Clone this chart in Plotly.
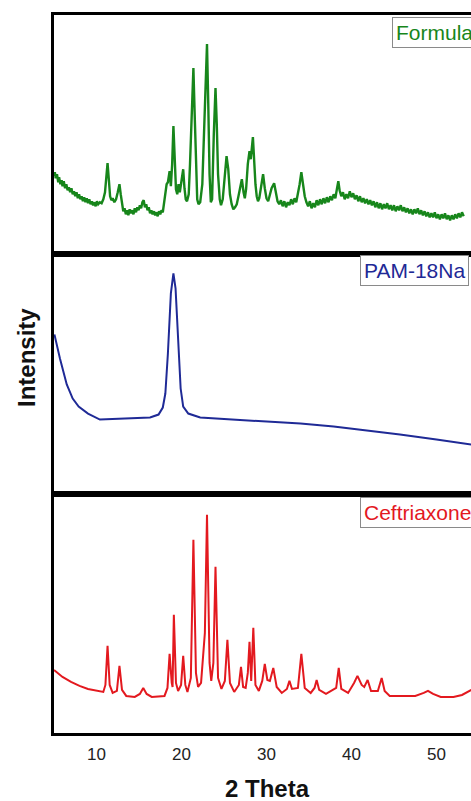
import plotly.graph_objects as go
from plotly.subplots import make_subplots

# ---- data (2 Theta, relative intensity) ----
formula_x = [5.0, 5.1, 5.2, 5.35, 5.5, 5.6, 5.75, 5.9, 6.0, 6.15, 6.3, 6.45, 6.6, 6.75, 6.9, 7.05, 7.2, 7.35, 7.5, 7.65,
             7.8, 7.95, 8.1, 8.25, 8.4, 8.55, 8.7, 8.85, 9.0, 9.15, 9.3, 9.45, 9.6, 9.75, 9.9, 10.05, 10.2, 10.4, 10.6, 10.8,
             11.0, 11.15, 11.3, 11.45, 11.6, 11.75, 11.9, 12.1, 12.3, 12.5, 12.7, 12.85, 13.0, 13.15, 13.3, 13.45, 13.6, 13.75, 13.9, 14.05,
             14.2, 14.35, 14.5, 14.65, 14.8, 14.95, 15.1, 15.25, 15.4, 15.55, 15.7, 15.85, 16.0, 16.15, 16.3, 16.45, 16.6, 16.75, 16.9, 17.05,
             17.2, 17.35, 17.5, 17.65, 17.8, 17.95, 18.1, 18.25, 18.4, 18.6, 18.75, 18.9, 19.05, 19.2, 19.35, 19.5, 19.65, 19.8, 20.0, 20.2,
             20.35, 20.5, 20.65, 20.85, 21.0, 21.2, 21.4, 21.55, 21.7, 21.85, 22.0, 22.2, 22.45, 22.7, 22.9, 23.0, 23.15, 23.3, 23.45, 23.6,
             23.8, 24.0, 24.15, 24.3, 24.5, 24.65, 24.85, 25.1, 25.3, 25.5, 25.7, 25.9, 26.1, 26.3, 26.5, 26.7, 26.9, 27.1, 27.3, 27.45,
             27.6, 27.8, 28.0, 28.15, 28.4, 28.55, 28.7, 28.85, 29.0, 29.15, 29.35, 29.6, 29.8, 30.0, 30.2, 30.4, 30.6, 30.9, 31.1, 31.3,
             31.5, 31.7, 31.9, 32.1, 32.3, 32.5, 32.7, 32.9, 33.1, 33.3, 33.5, 33.7, 33.9, 34.1, 34.3, 34.5, 34.7, 34.9, 35.1, 35.3,
             35.5, 35.7, 35.9, 36.1, 36.3, 36.5, 36.7, 36.9, 37.1, 37.3, 37.5, 37.7, 37.9, 38.1, 38.3, 38.45, 38.6, 38.8, 39.0, 39.2,
             39.4, 39.6, 39.8, 40.0, 40.2, 40.4, 40.6, 40.8, 41.0, 41.2, 41.4, 41.6, 41.8, 42.0, 42.2, 42.4, 42.6, 42.8, 43.0, 43.2,
             43.4, 43.6, 43.8, 44.0, 44.2, 44.4, 44.6, 44.8, 45.0, 45.2, 45.4, 45.6, 45.8, 46.0, 46.2, 46.4, 46.6, 46.8, 47.0, 47.2,
             47.4, 47.6, 47.8, 48.0, 48.2, 48.4, 48.6, 48.8, 49.0, 49.2, 49.4, 49.6, 49.8, 50.0, 50.2, 50.4, 50.6, 50.8, 51.0, 51.2,
             51.4, 51.6, 51.8, 52.0, 52.2, 52.4, 52.6, 52.8, 53.0, 53.2, 53.4, 53.6, 53.8, 54.1]
formula_y = [78, 82, 76, 80, 72, 77, 70, 74, 68, 73, 66, 70, 64, 67, 62, 66, 60, 63, 58, 62,
             56, 60, 55, 58, 53, 57, 52, 56, 51, 55, 50, 53, 49, 52, 48, 53, 50, 52, 51, 55,
             62, 80, 91, 75, 58, 54, 56, 52, 55, 62, 70, 60, 48, 43, 46, 40, 44, 39, 45, 41,
             44, 40, 46, 42, 47, 44, 49, 46, 52, 54, 47, 50, 44, 47, 41, 44, 40, 43, 39, 42,
             38, 43, 40, 44, 42, 50, 62, 70, 72, 83, 68, 90, 128, 95, 65, 60, 70, 62, 72, 85,
             66, 55, 53, 60, 90, 150, 186, 140, 80, 55, 50, 52, 70, 140, 200, 210, 150, 80, 52, 55,
             120, 166, 130, 80, 55, 49, 55, 75, 98, 85, 60, 50, 45, 47, 50, 58, 68, 75, 62, 56,
             65, 90, 103, 95, 117, 90, 70, 58, 53, 56, 65, 80, 66, 56, 53, 60, 66, 71, 60, 53,
             50, 54, 48, 53, 47, 52, 49, 55, 50, 56, 52, 60, 70, 82, 68, 58, 52, 48, 53, 46,
             51, 47, 54, 49, 55, 50, 56, 51, 57, 52, 58, 54, 60, 56, 66, 73, 64, 58, 62, 55,
             60, 56, 63, 57, 61, 55, 59, 53, 58, 52, 56, 51, 55, 50, 54, 49, 53, 47, 52, 46,
             51, 45, 50, 46, 51, 45, 49, 44, 49, 43, 48, 44, 49, 43, 47, 42, 46, 41, 45, 40,
             45, 41, 46, 40, 44, 39, 43, 38, 42, 37, 41, 37, 42, 36, 40, 35, 40, 36, 41, 35,
             39, 34, 39, 35, 40, 36, 41, 37, 42, 38]

pam_x = [5.05, 5.7, 6.5, 7.2, 7.9, 9.0, 10.4, 13.0, 16.3, 17.3, 17.8, 18.1, 18.4, 18.75, 19.05, 19.3, 19.6, 19.9,
         20.2, 20.8, 22.2, 26.0, 30.0, 34.0, 37.9, 42.0, 45.7, 50.0, 54.1]
pam_y = [159, 135, 109, 95, 87, 80, 74, 75, 76, 79, 86, 100, 140, 200, 220, 205, 150, 105,
         87, 80, 76, 74, 72, 70, 67, 63, 59, 54, 49]

cef_x = [5.0, 6.0, 7.0, 8.0, 9.0, 10.0, 10.8, 11.05, 11.3, 11.55, 11.9, 12.4, 12.7, 13.0, 13.5, 14.5, 15.1, 15.5,
         15.9, 16.5, 18.0, 18.35, 18.6, 18.85, 18.95, 19.1, 19.35, 19.6, 19.95, 20.2, 20.45, 20.7, 21.1, 21.4, 21.7, 21.95,
         22.3, 22.75, 23.0, 23.3, 23.5, 23.75, 24.0, 24.3, 24.7, 25.1, 25.4, 25.7, 26.2, 26.75, 27.0, 27.25, 27.55, 27.8,
         28.0, 28.2, 28.45, 28.7, 29.1, 29.5, 29.8, 30.1, 30.4, 30.8, 31.2, 31.8, 32.4, 32.7, 33.0, 33.7, 34.1, 34.5,
         35.2, 35.65, 35.9, 36.2, 37.0, 38.2, 38.5, 38.8, 39.6, 40.3, 40.7, 41.2, 41.5, 41.9, 42.3, 43.1, 43.55, 43.9,
         44.5, 46.0, 47.5, 48.5, 49.0, 49.6, 50.5, 52.0, 53.0, 54.1]
cef_y = [63, 56, 51, 47, 44, 42, 41, 48, 87, 48, 40, 42, 67, 43, 37, 36, 39, 45,
         39, 36, 37, 45, 79, 50, 46, 118, 50, 42, 48, 77, 48, 41, 55, 193, 60, 46,
         50, 100, 218, 70, 52, 70, 166, 55, 44, 52, 93, 50, 41, 48, 66, 46, 45, 60,
         91, 52, 105, 48, 42, 52, 69, 53, 52, 65, 46, 40, 44, 52, 44, 45, 79, 45,
         40, 45, 53, 43, 39, 45, 65, 44, 40, 50, 57, 48, 46, 53, 42, 42, 55, 42,
         37, 37, 37, 40, 42, 39, 36, 36, 38, 43]

labels = ["Formula", "PAM-18Na", "Ceftriaxone"]
colors = ["#17861b", "#1f2a96", "#e3191f"]
x_ticks = [10, 20, 30, 40, 50]

FONT = "Liberation Sans, Arial, sans-serif"

fig = make_subplots(rows=3, cols=1, shared_xaxes=True, vertical_spacing=0)
series = [(formula_x, formula_y), (pam_x, pam_y), (cef_x, cef_y)]
widths = [2.4, 2, 2]
for i, ((xs, ys), c, w) in enumerate(zip(series, colors, widths)):
    fig.add_trace(go.Scatter(x=xs, y=ys, mode="lines", line=dict(color=c, width=w),
                             showlegend=False, hoverinfo="skip"), row=i + 1, col=1)

for i in range(3):
    fig.update_xaxes(row=i + 1, col=1, range=[5, 54.06], showline=True, linecolor="black", linewidth=3,
                     mirror=True, showgrid=False, zeroline=False, ticks="",
                     tickvals=x_ticks, showticklabels=(i == 2), ticklabelstandoff=4,
                     tickfont=dict(family=FONT, size=17, color="#222"))
    fig.update_yaxes(row=i + 1, col=1, range=[0, 239], showline=True, linecolor="black", linewidth=3,
                     mirror=False, showgrid=False, zeroline=False, ticks="", showticklabels=False)

W, H = 471, 801
ml, mr, mt, mb = 54, 0, 15, 68
pw, ph = W - ml - mr, H - mt - mb

def px_x(p):
    return (p - ml) / pw

def px_y(p):
    return 1 - (p - mt) / ph

box_pos = [(392, 17), (360, 255), (360, 497)]
for lab, c, (bx, by) in zip(labels, colors, box_pos):
    fig.add_annotation(xref="paper", yref="paper", x=px_x(bx), y=px_y(by), xanchor="left", yanchor="top",
                       text=lab, showarrow=False, font=dict(family=FONT, size=21, color=c),
                       bgcolor="white", bordercolor="#8a8a8a", borderwidth=1, borderpad=3)

fig.add_annotation(xref="paper", yref="paper", x=px_x(26), y=px_y(358), text="<b>Intensity</b>",
                   textangle=-90, showarrow=False, xanchor="center", yanchor="middle",
                   font=dict(family=FONT, size=24, color="#111"))
fig.add_annotation(xref="paper", yref="paper", x=px_x(267), y=px_y(788), text="<b>2 Theta</b>",
                   showarrow=False, xanchor="center", yanchor="middle",
                   font=dict(family=FONT, size=24, color="#111"))

fig.update_layout(width=W, height=H, margin=dict(l=ml, r=mr, t=mt, b=mb),
                  paper_bgcolor="white", plot_bgcolor="white", showlegend=False)

fig.write_html("out.html", config={"displayModeBar": False},
               post_script="document.body.style.margin='0px';document.body.style.overflow='hidden';")
